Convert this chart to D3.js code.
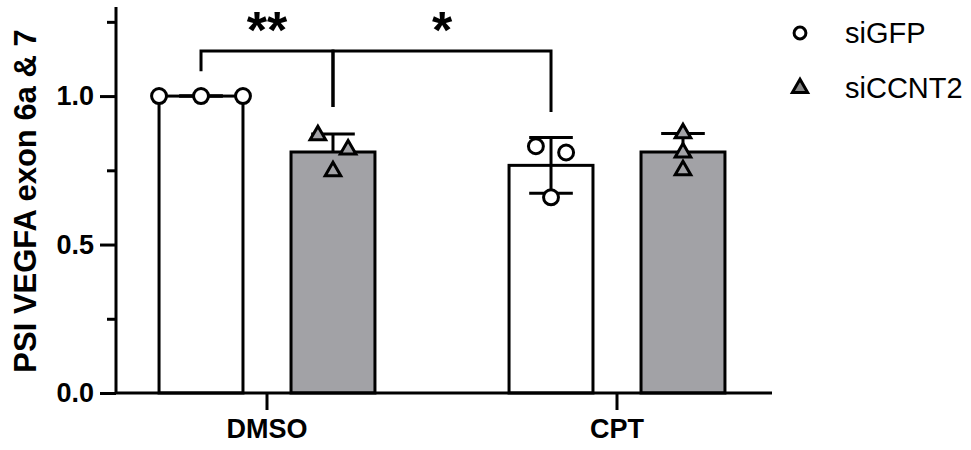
<!DOCTYPE html>
<html>
<head>
<meta charset="utf-8">
<script src="https://cdn.jsdelivr.net/npm/d3@7"></script>
<style>
  body { margin: 0; background: #fff; }
  text { font-family: "Liberation Sans", Arial, sans-serif; }
</style>
</head>
<body>
<svg width="971" height="450"></svg>
<script>
// data
var groups = ["DMSO", "CPT"];
var series = ["siGFP", "siCCNT2"];

// replicate values per group, per series
var siGFP = [[1.0, 1.0, 1.0], [0.831, 0.810, 0.659]];
var siCCNT2 = [[0.868, 0.820, 0.747], [0.875, 0.810, 0.750]];

// horizontal scatter of the points (fraction of bar width)
var jitter = {
  siGFP: [[-0.5, 0, 0.5], [-0.18, 0.18, 0]],
  siCCNT2: [[-0.18, 0.18, 0], [0, 0, 0]]
};

var yMajor = [0, 0.5, 1.0];
var yMinor = [0.25, 0.75, 1.25];

// significance brackets: [group, series] -> [group, series]
var comparisons = [
  { a: ["DMSO", "siGFP"], b: ["DMSO", "siCCNT2"], label: "**", dropA: 1.084, dropB: 0.963 },
  { a: ["DMSO", "siCCNT2"], b: ["CPT", "siGFP"], label: "*", dropA: 0.963, dropB: 0.946 }
];
var bracketY = 1.152;

var raw = { siGFP: siGFP, siCCNT2: siCCNT2 };
var fills = { siGFP: "none", siCCNT2: "#a2a2a6" };

var svg = d3.select("svg");

var y = d3.scaleLinear().domain([0, 1.3]).range([393, 7]);
var x0 = d3.scaleBand().domain(groups).range([92, 792]);
var x1 = d3.scaleBand().domain(series).range([0, x0.bandwidth()])
  .paddingInner(0.364).paddingOuter(0.508);

function cx(g, s) { return x0(g) + x1(s) + x1.bandwidth() / 2; }

// summary stats
var bars = [];
groups.forEach(function (g, gi) {
  series.forEach(function (s) {
    var v = raw[s][gi];
    bars.push({ g: g, s: s, gi: gi, vals: v, mean: d3.mean(v), sd: d3.deviation(v) });
  });
});

// error bars (drawn first so the grey bars hide the lower half)
var capW = x1.bandwidth() * 0.52;
var eb = svg.append("g").attr("stroke", "#000").attr("stroke-width", 3);
bars.forEach(function (d) {
  var c = cx(d.g, d.s);
  eb.append("line").attr("x1", c).attr("x2", c)
    .attr("y1", y(d.mean - d.sd)).attr("y2", y(d.mean + d.sd));
  [d.mean - d.sd, d.mean + d.sd].forEach(function (v) {
    eb.append("line").attr("x1", c - capW / 2).attr("x2", c + capW / 2)
      .attr("y1", y(v)).attr("y2", y(v));
  });
});

// bars
svg.append("g").selectAll("rect").data(bars).join("rect")
  .attr("x", function (d) { return x0(d.g) + x1(d.s); })
  .attr("width", x1.bandwidth())
  .attr("y", function (d) { return y(d.mean); })
  .attr("height", function (d) { return y(0) - y(d.mean); })
  .attr("fill", function (d) { return fills[d.s]; })
  .attr("stroke", "#000").attr("stroke-width", 3);

// points
var circle = d3.symbol().type(d3.symbolCircle).size(175);
var tri = d3.symbol().type(d3.symbolTriangle).size(105);
var pts = svg.append("g");
bars.forEach(function (d) {
  d.vals.forEach(function (v, i) {
    var px = cx(d.g, d.s) + jitter[d.s][d.gi][i] * x1.bandwidth();
    pts.append("path")
      .attr("d", d.s === "siGFP" ? circle() : tri())
      .attr("transform", "translate(" + px + "," + y(v) + ")")
      .attr("fill", d.s === "siGFP" ? "#fff" : "#a2a2a6")
      .attr("stroke", "#000").attr("stroke-width", 3);
  });
});

// axes
var yAxis = svg.append("g").attr("transform", "translate(116,0)")
  .call(d3.axisLeft(y).tickValues(yMajor).tickFormat(d3.format(".1f")).tickSize(16).tickSizeOuter(0).tickPadding(6));
svg.append("g").attr("transform", "translate(116,0)")
  .call(d3.axisLeft(y).tickValues(yMinor).tickFormat("").tickSize(9).tickSizeOuter(0))
  .select(".domain").remove();
yAxis.select(".domain").attr("d", "M0," + y(1.3) + "V" + y(0));

var xAxis = svg.append("g").attr("transform", "translate(0," + y(0) + ")")
  .call(d3.axisBottom(x0).tickSize(17).tickSizeOuter(0).tickPadding(9));
xAxis.select(".domain").attr("d", "M116,0H772");

svg.selectAll(".domain, .tick line").attr("stroke", "#000").attr("stroke-width", 3);
yAxis.selectAll(".tick text").attr("font-size", 27).attr("font-weight", "bold").attr("fill", "#000")
  .style("font-family", "Liberation Sans, Arial, sans-serif");
xAxis.selectAll(".tick text").attr("font-size", 27).attr("font-weight", "bold").attr("fill", "#000")
  .style("font-family", "Liberation Sans, Arial, sans-serif");

svg.append("text")
  .attr("transform", "translate(36,201) rotate(-90)")
  .attr("text-anchor", "middle")
  .attr("font-size", 31).attr("font-weight", "bold")
  .text("PSI VEGFA exon 6a & 7");

// significance brackets
var br = svg.append("g");
comparisons.forEach(function (c) {
  var xa = cx(c.a[0], c.a[1]), xb = cx(c.b[0], c.b[1]);
  br.append("path")
    .attr("d", "M" + xa + "," + y(c.dropA) + "V" + y(bracketY) + "H" + xb + "V" + y(c.dropB))
    .attr("fill", "none").attr("stroke", "#000").attr("stroke-width", 3);
  br.append("text")
    .attr("x", (xa + xb) / 2).attr("y", 48)
    .attr("text-anchor", "middle")
    .attr("font-size", 52).attr("font-weight", "bold")
    .text(c.label);
});

// legend
var leg = svg.append("g").attr("transform", "translate(800,0)");
series.forEach(function (s, i) {
  var row = leg.append("g").attr("transform", "translate(0," + (33 + i * 55) + ")");
  row.append("path")
    .attr("d", s === "siGFP" ? d3.symbol().type(d3.symbolCircle).size(110)() : d3.symbol().type(d3.symbolTriangle).size(100)())
    .attr("fill", s === "siGFP" ? "#fff" : "#888")
    .attr("stroke", "#000").attr("stroke-width", 3);
  row.append("text").attr("x", 45).attr("y", 10)
    .attr("font-size", 29).text(s);
});
</script>
</body>
</html>
